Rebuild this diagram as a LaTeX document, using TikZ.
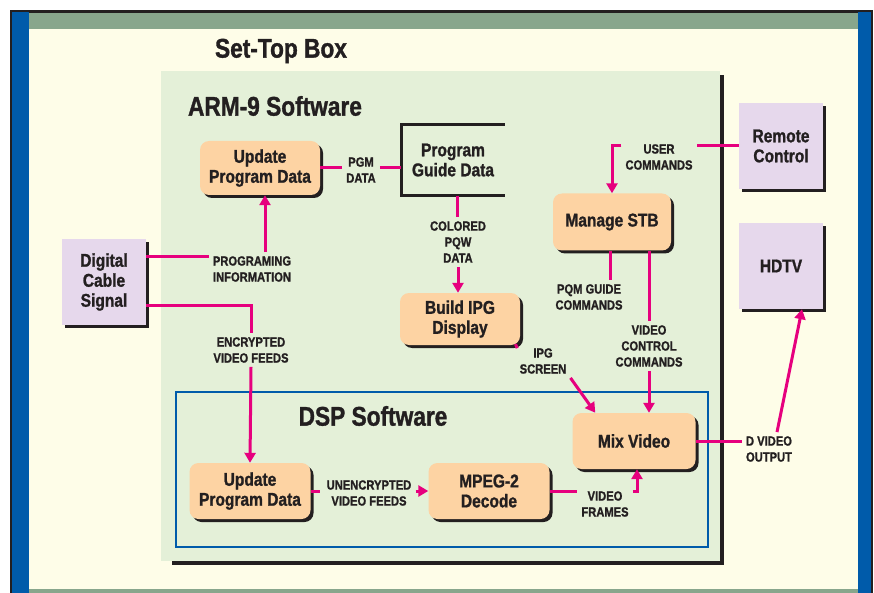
\documentclass[tikz,border=0pt]{standalone}
\usepackage{fontspec}
\setmainfont{Liberation Sans}[FakeStretch=0.84, FakeBold=1.2]
\usepackage{tikz}
\usetikzlibrary{positioning,arrows.meta,shadows}
\definecolor{frameblue}{HTML}{005BAA}
\definecolor{bargreen}{HTML}{88A68C}
\definecolor{cream}{HTML}{FEFDE8}
\definecolor{panelgreen}{HTML}{E4F0D8}
\definecolor{peach}{HTML}{FDD3A3}
\definecolor{lavender}{HTML}{E6D8EC}
\definecolor{flowpink}{HTML}{E6007E}
\definecolor{inkdark}{HTML}{231F20}

\begin{document}
\begin{tikzpicture}[
x=1pt, y=-1pt,
every node/.style={text=inkdark},
title/.style={font=\fontsize{27}{29}\selectfont\bfseries},
proc/.style={rounded corners=9pt, fill=peach, align=center, font=\fontsize{18.5}{20}\selectfont\bfseries, drop shadow={shadow xshift=3pt, shadow yshift=-3pt, fill=inkdark, opacity=1}},
ext/.style={fill=lavender, align=center, font=\fontsize{18.5}{20}\selectfont\bfseries, minimum width=84pt, minimum height=86pt, drop shadow={shadow xshift=3pt, shadow yshift=-3pt, fill=inkdark, opacity=1}},
lbl/.style={align=center, font=\fontsize{13.3}{16}\selectfont\bfseries, inner sep=4pt},
flow/.style={flowpink, line width=3pt},
arrow/.style={flow, -{Triangle[length=10pt, width=11pt]}}
]
\useasboundingbox (0,0) rectangle (874,593);
\fill[inkdark] (10,10) rectangle (873,593);
\fill[frameblue] (12,12) rectangle (29,593);
\fill[frameblue] (858,12) rectangle (871,593);
\fill[bargreen] (29,13) rectangle (858,29);
\fill[bargreen] (29,589) rectangle (858,593);
\fill[cream] (29,29) rectangle (858,589);
\fill[inkdark] (172,75) rectangle (724,565);
\fill[panelgreen] (161,71) rectangle (720,561);
\draw[frameblue, line width=2pt] (176,392) rectangle (708,547);

\node[title] (stb) at (281,51) {Set-Top Box};
\node[title] (arm) at (275,106) {ARM-9 Software};
\node[title] (dsp) at (373,416) {DSP Software};

\node[proc, minimum width=120pt, minimum height=54pt] (upd1) at (260,168) {Update\\Program Data};
\node[align=center, font=\fontsize{18.5}{20}\selectfont\bfseries, minimum width=103pt, minimum height=71pt] (pgd) at (453,160) {Program\\Guide Data};
\draw[inkdark, line width=2.5pt] (pgd.north east) -- (pgd.north west) -- (pgd.south west) -- (pgd.south east);
\node[proc, minimum width=120pt, minimum height=52pt] (build) at (460,319) {Build IPG\\Display};
\node[proc, minimum width=118pt, minimum height=57pt] (mstb) at (612,222) {Manage STB};
\node[proc, minimum width=121pt, minimum height=56pt] (upd2) at (250,491) {Update\\Program Data};
\node[proc, minimum width=121pt, minimum height=56pt] (mpeg) at (489,491) {MPEG-2\\Decode};
\node[proc, minimum width=123pt, minimum height=56pt] (mix) at (634,441) {Mix Video};
\node[ext] (dcs) at (104,282) {Digital\\Cable\\Signal};
\node[ext] (remote) at (781,146) {Remote\\Control};
\node[ext] (hdtv) at (781,266) {HDTV};

\node[lbl] (pgm) at (361,170) {PGM\\DATA};
\node[lbl] (proginfo) at (252,269) {PROGRAMING\\INFORMATION};
\node[lbl] (colored) at (458,242) {COLORED\\PQW\\DATA};
\node[lbl] (enc) at (251,350) {ENCRYPTED\\VIDEO FEEDS};
\node[lbl] (unenc) at (369,493) {UNENCRYPTED\\VIDEO FEEDS};
\node[lbl] (ipgscr) at (543,361) {IPG\\SCREEN};
\node[lbl] (pqm) at (589,297) {PQM GUIDE\\COMMANDS};
\node[lbl] (vcc) at (649,346) {VIDEO\\CONTROL\\COMMANDS};
\node[lbl] (user) at (659,157) {USER\\COMMANDS};
\node[lbl] (vframes) at (605,504) {VIDEO\\FRAMES};
\node[lbl] (dvo) at (769,449) {D VIDEO\\OUTPUT};

\draw[flow] (pgm.west |- upd1.east) -- (upd1.east);
\draw[flow] (pgm.east |- upd1.east) -- (pgd.west |- upd1.east);
\draw[flow] ([yshift=25pt]dcs.east) -- ([yshift=12pt]proginfo.west);
\draw[arrow] ([xshift=5pt]upd1.south |- proginfo.north) -- ([xshift=5pt]upd1.south);
\draw[flow] ([xshift=4pt]pgd.south) -- ([xshift=4pt]pgd.south |- colored.north);
\draw[arrow] (colored.south) -- (colored.south |- build.north);
\draw[flow] ([yshift=-23pt]dcs.east) -| (enc.north);
\draw[arrow] (enc.south) -- (upd2.north);
\draw[flow] (upd2.east) -- ([xshift=-2pt]unenc.west |- upd2.east);
\draw[arrow] (unenc.east |- mpeg.west) -- (mpeg.west);
\draw[flow] (mpeg.east) -- (mpeg.east -| vframes.west);
\draw[arrow] (mpeg.east -| vframes.east) -| ([xshift=3pt]mix.south);
\draw[flow] ([xshift=-3pt, yshift=-3pt]build.south east) -- (ipgscr.north west);
\draw[arrow] (ipgscr.south east) -- ([xshift=23pt]mix.north west);
\draw[flow] ([xshift=-2pt]mstb.south) -- ([xshift=-2pt]mstb.south |- pqm.north);
\draw[flow] ([xshift=37pt]mstb.south) -- (vcc.north);
\draw[arrow] (vcc.south) -- (vcc.south |- mix.north);
\draw[flow] (remote.west) -- (remote.west -| user.east);
\draw[arrow] (remote.west -| user.west) -| (mstb.north);
\draw[flow] (mix.east) -- (mix.east -| dvo.west);
\draw[arrow] ([xshift=8pt]dvo.north) -- ([xshift=21pt]hdtv.south);
\end{tikzpicture}
\end{document}
